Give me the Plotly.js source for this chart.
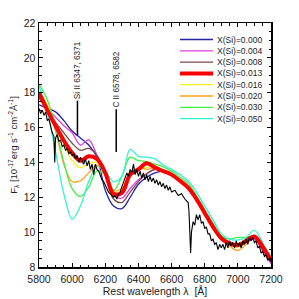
<!DOCTYPE html>
<html><head><meta charset="utf-8">
<script src="https://cdn.plot.ly/plotly-3.0.1.min.js"></script>
<style>html,body{margin:0;padding:0;background:#fff}#c{width:299px;height:299px}</style>
</head><body><div id="c"></div>
<script>
// Model wavelength grid (Å)
const wave = [5800,5850,5900,5950,6000,6050,6100,6150,6200,6250,6300,6350,6400,6450,6500,6550,6600,6650,6700,6750,6800,6850,6900,6950,7000,7050,7100,7150,7200];
const seriesNames = ["X(Si)=0.000","X(Si)=0.004","X(Si)=0.008","X(Si)=0.013","X(Si)=0.016","X(Si)=0.020","X(Si)=0.030","X(Si)=0.050"];
const fSi000 = [17.3,17.1,16.9,16.4,15.8,15.4,15.0,14.3,12.4,11.5,11.35,12.0,12.75,13.15,13.4,13.5,13.3,12.95,12.55,11.85,11.05,10.25,9.6,9.35,9.3,9.5,9.7,9.1,8.35];
const fSi004 = [17.8,17.1,16.6,16.1,15.7,15.0,15.3,14.4,13.2,12.1,11.95,12.5,13.0,13.35,13.6,13.5,13.3,12.95,12.55,11.85,11.05,10.25,9.55,9.3,9.2,9.4,9.6,8.9,8.2];
const fSi008 = [17.7,17.0,16.3,15.7,15.1,14.7,14.8,14.4,13.3,11.9,11.7,12.3,12.9,13.35,13.6,13.5,13.3,12.95,12.55,11.85,11.05,10.25,9.6,9.35,9.25,9.45,9.7,9.05,8.3];
const fSi013 = [18.0,17.0,16.1,15.25,14.55,14.1,14.35,14.2,13.4,12.2,12.25,13.3,13.6,13.95,13.7,13.5,13.3,12.95,12.55,11.9,11.1,10.3,9.65,9.35,9.25,9.5,9.75,9.15,8.4];
const fSi016 = [18.1,17.3,16.2,15.1,14.1,13.7,13.95,14.0,13.3,12.3,12.4,13.2,13.6,13.7,13.8,13.55,13.35,13.0,12.6,11.9,11.1,10.3,9.65,9.3,9.15,9.45,9.75,9.15,8.4];
const fSi020 = [18.0,17.2,15.8,13.9,12.9,12.95,13.4,13.85,13.5,12.4,12.5,13.3,13.7,13.6,13.7,13.55,13.35,13.0,12.6,11.95,11.15,10.35,9.6,9.2,8.95,9.3,9.75,9.2,8.45];
const fSi030 = [18.5,17.6,16.0,14.0,12.5,12.05,12.6,13.5,13.3,12.4,13.2,14.3,14.1,14.05,13.9,13.75,13.5,13.15,12.8,12.1,11.3,10.5,9.8,9.6,9.7,9.7,9.8,9.3,8.5];
const fSi050 = [18.4,16.9,14.6,12.2,10.75,11.5,12.9,13.75,13.5,12.9,13.2,14.75,14.35,14.3,14.2,13.85,13.6,13.3,12.95,12.3,11.5,10.7,9.9,9.6,9.55,9.7,10.1,9.4,8.5];
const seriesColors = ["#2323a3","#e03fe0","#7c4a4a","#ff0000","#f2f21a","#ffa21a","#44f044","#33f2d2"];
// Observed spectrum
const obsWave = [5800,5810,5820,5830,5840,5850,5860,5870,5880,5890,5895,5900,5910,5920,5930,5940,5950,5960,5970,5980,5990,6000,6010,6020,6030,6040,6050,6060,6070,6080,6090,6100,6110,6120,6130,6140,6150,6160,6170,6180,6190,6200,6210,6220,6230,6240,6250,6260,6270,6280,6290,6300,6310,6320,6330,6340,6350,6360,6370,6380,6390,6400,6410,6420,6430,6440,6450,6460,6470,6480,6490,6500,6510,6520,6530,6540,6550,6560,6570,6580,6590,6600,6620,6640,6660,6680,6700,6705,6710,6715,6720,6730,6740,6750,6760,6770,6780,6790,6800,6810,6820,6830,6840,6850,6860,6870,6880,6890,6900,6910,6920,6930,6940,6950,6960,6970,6980,6990,7000,7010,7020,7030,7040,7050,7060,7070,7080,7090,7100,7110,7120,7130,7140,7150,7160,7170,7180,7190,7200];
const obsFlux = [17.1,16.8,17.0,16.7,16.9,16.4,16.5,16.0,15.7,15.5,14.0,15.4,15.6,15.2,15.3,14.9,15.0,14.7,14.8,14.5,14.6,14.4,14.5,14.2,14.4,14.0,14.3,14.1,13.9,14.2,13.8,14.1,13.6,13.9,13.3,13.9,13.6,13.5,13.2,13.0,12.9,12.7,12.5,12.3,12.2,12.1,12.0,12.1,11.9,12.2,12.3,12.6,12.9,13.2,13.4,13.2,13.6,13.4,13.9,13.3,13.6,13.2,13.5,13.1,13.4,13.0,13.3,12.9,13.2,12.9,13.1,12.8,13.0,12.7,12.9,12.6,12.8,12.5,12.7,12.4,12.6,12.3,12.4,12.1,12.2,11.9,11.7,11.2,9.5,8.8,10.0,10.6,10.4,11.0,10.7,11.0,10.5,10.6,10.2,10.3,9.9,9.9,9.5,9.6,9.3,9.4,9.0,9.3,9.1,9.3,9.0,9.4,9.1,9.5,9.2,9.4,9.1,9.5,9.2,9.4,9.1,9.5,9.3,9.6,9.3,9.7,9.5,9.7,9.4,9.5,9.1,9.2,8.8,8.9,8.6,8.7,8.4,8.5,8.3];
const xTicks = [5800,6000,6200,6400,6600,6800,7000,7200];
const yTicks = [8,10,12,14,16,18,20,22];

const models = [fSi000,fSi004,fSi008,fSi013,fSi016,fSi020,fSi030,fSi050];
const traces = [];
const order = [0,1,2,4,5,6,7,3];
order.forEach(i => {
  traces.push({x: wave, y: models[i], type:'scatter', mode:'lines', name: seriesNames[i],
    line:{color: seriesColors[i], width: i===3 ? 4 : 1.3, shape:'spline', smoothing:1}, showlegend:false});
});
traces.push({x: obsWave, y: obsFlux, type:'scatter', mode:'lines', name:'observed',
  line:{color:'#000', width:1.1}, showlegend:false});

// layout geometry (pixels)
const L=39, R=271, T=23, B=267;
const px2x = p => (p-L)/(R-L), py2y = p => (B-p)/(B-T);
const shapes = [], annotations = [];
const rowY = [39.5,50.8,62.1,73.4,84.7,96,107.3,118.6];
seriesNames.forEach((n,i) => {
  shapes.push({type:'line', xref:'paper', yref:'paper', x0:px2x(180), x1:px2x(213), y0:py2y(rowY[i]), y1:py2y(rowY[i]),
    line:{color:seriesColors[i], width: i===3?4:1.3}});
  annotations.push({xref:'paper', yref:'paper', x:px2x(215), y:py2y(rowY[i]), xanchor:'left', yanchor:'middle',
    text:n, showarrow:false, font:{family:'Liberation Sans, Arial, sans-serif', size:8.5, color:'#222'}});
});
// line identifications
const lineIds = [{w:6032, text:'Si II 6347, 6371', top:17.6, low:15.55}, {w:6266, text:'C II 6578, 6582', top:17.1, low:14.6}];
lineIds.forEach(l => {
  annotations.push({xref:'x', yref:'y', x:l.w, y:l.top, xanchor:'center', yanchor:'bottom', textangle:-90,
    text:l.text, showarrow:false, font:{family:'Liberation Sans, Arial, sans-serif', size:8.2, color:'#222'}, borderpad:0});
  shapes.push({type:'line', xref:'x', yref:'y', x0:l.w, x1:l.w, y0:l.low, y1:l.top-0.05, line:{color:'#000', width:1.5}});
});

const axisCommon = {showline:true, linecolor:'#000', linewidth:1.5, mirror:'ticks', ticks:'inside', ticklen:4,
  tickwidth:1, tickcolor:'#000', showgrid:false, zeroline:false,
  tickfont:{family:'Liberation Sans, Arial, sans-serif', size:10.5, color:'#222'}};
const layout = {
  width:299, height:299, margin:{l:L, r:299-R, t:T, b:299-B}, paper_bgcolor:'#fff', plot_bgcolor:'#fff',
  xaxis: Object.assign({}, axisCommon, {range:[5800,7200], tickvals:xTicks, ticktext:xTicks.map(String), ticklabelstandoff:2,
    minor:{dtick:50, tick0:5800, ticks:'inside', ticklen:2.5, tickcolor:'#000', tickwidth:1},
    title:{text:'Rest wavelength λ  [Å]', font:{family:'Liberation Sans, Arial, sans-serif', size:10.5, color:'#222'}, standoff:2}}),
  yaxis: Object.assign({}, axisCommon, {range:[8,22], tickvals:yTicks, ticktext:yTicks.map(String),
    minor:{dtick:0.5, tick0:8, ticks:'inside', ticklen:2.5, tickcolor:'#000', tickwidth:1},
    title:{text:'F<sub>λ</sub> [10<sup>-17</sup>erg s<sup>-1</sup> cm<sup>-2</sup>Å<sup>-1</sup>]', font:{family:'Liberation Sans, Arial, sans-serif', size:9.5, color:'#222'}, standoff:4}}),
  shapes: shapes, annotations: annotations, showlegend:false
};
Plotly.newPlot('c', traces, layout, {displayModeBar:false, staticPlot:true});
</script></body></html>
